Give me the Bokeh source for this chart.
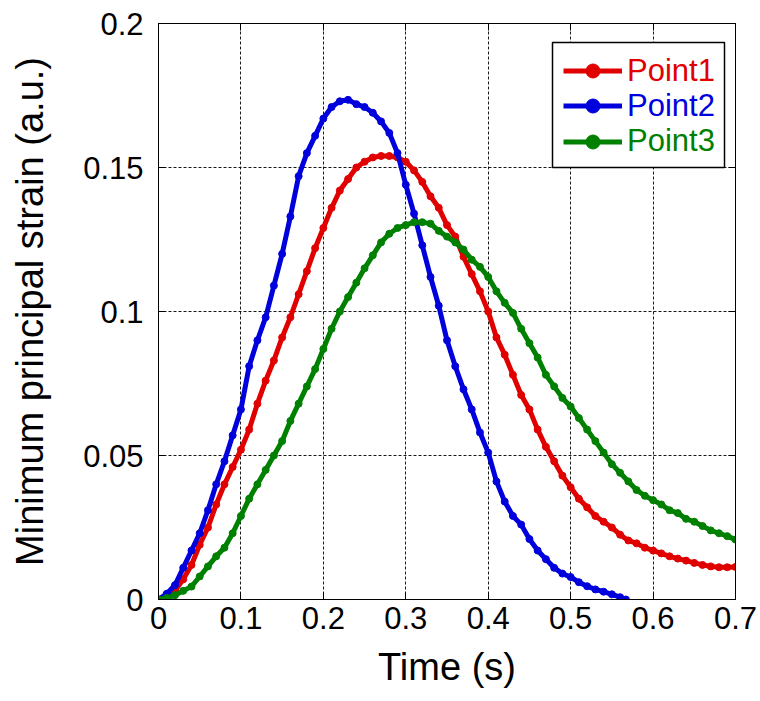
from bokeh.plotting import figure
from bokeh.models import (Range1d, FixedTicker, Legend, LegendItem, LinearAxis,
                          ColumnDataSource, BoxAnnotation)
from bokeh.embed import file_html
from bokeh.resources import INLINE

# ---------------- data ----------------
time_s = [0.00, 0.01, 0.02, 0.03, 0.04, 0.05, 0.06, 0.07, 0.08, 0.09,
          0.10, 0.11, 0.12, 0.13, 0.14, 0.15, 0.16, 0.17, 0.18, 0.19,
          0.20, 0.21, 0.22, 0.23, 0.24, 0.25, 0.26, 0.27, 0.28, 0.29,
          0.30, 0.31, 0.32, 0.33, 0.34, 0.35, 0.36, 0.37, 0.38, 0.39,
          0.40, 0.41, 0.42, 0.43, 0.44, 0.45, 0.46, 0.47, 0.48, 0.49,
          0.50, 0.51, 0.52, 0.53, 0.54, 0.55, 0.56, 0.57, 0.58, 0.59,
          0.60, 0.61, 0.62, 0.63, 0.64, 0.65, 0.66, 0.67, 0.68, 0.69,
          0.70]

point1 = [0.0, 0.001, 0.003, 0.007, 0.012, 0.019, 0.025, 0.033, 0.040, 0.046,
          0.052, 0.059, 0.068, 0.076, 0.083, 0.091, 0.098, 0.106, 0.114, 0.122,
          0.129, 0.136, 0.142, 0.146, 0.150, 0.152, 0.1535, 0.154, 0.154, 0.1535,
          0.152, 0.149, 0.145, 0.140, 0.136, 0.130, 0.126, 0.119, 0.113, 0.107,
          0.100, 0.091, 0.085, 0.078, 0.071, 0.066, 0.059, 0.053, 0.048, 0.043,
          0.039, 0.035, 0.032, 0.029, 0.027, 0.025, 0.0225, 0.0205, 0.0195, 0.018,
          0.017, 0.016, 0.015, 0.0142, 0.0135, 0.0127, 0.012, 0.0115, 0.0112, 0.0112,
          0.0113]

time_p2 = [0.00, 0.01, 0.02, 0.03, 0.04, 0.05, 0.06, 0.07, 0.08, 0.09,
           0.10, 0.11, 0.12, 0.13, 0.14, 0.15, 0.16, 0.17, 0.18, 0.19,
           0.20, 0.21, 0.22, 0.23, 0.24, 0.25, 0.26, 0.27, 0.28, 0.29,
           0.30, 0.31, 0.32, 0.33, 0.34, 0.35, 0.36, 0.37, 0.38, 0.39,
           0.40, 0.41, 0.42, 0.43, 0.44, 0.45, 0.46, 0.47, 0.48, 0.49,
           0.50, 0.51, 0.52, 0.53, 0.54, 0.55, 0.56, 0.567]

point2 = [0.0, 0.002, 0.005, 0.011, 0.017, 0.023, 0.031, 0.040, 0.048, 0.057,
          0.066, 0.081, 0.090, 0.098, 0.109, 0.120, 0.133, 0.147, 0.155, 0.161,
          0.167, 0.171, 0.173, 0.1735, 0.172, 0.171, 0.169, 0.166, 0.162, 0.155,
          0.144, 0.134, 0.123, 0.112, 0.102, 0.090, 0.081, 0.073, 0.066, 0.058,
          0.051, 0.041, 0.034, 0.029, 0.026, 0.021, 0.017, 0.014, 0.011, 0.009,
          0.0078, 0.006, 0.0046, 0.0035, 0.0027, 0.0018, 0.0008, 0.0]

point3 = [0.0, 0.0005, 0.0015, 0.003, 0.0045, 0.008, 0.0115, 0.015, 0.018, 0.023,
          0.029, 0.035, 0.040, 0.045, 0.050, 0.055, 0.062, 0.068, 0.074, 0.080,
          0.087, 0.094, 0.100, 0.105, 0.110, 0.115, 0.1195, 0.124, 0.127, 0.129,
          0.130, 0.131, 0.131, 0.1305, 0.128, 0.126, 0.124, 0.1215, 0.118, 0.1155,
          0.112, 0.107, 0.103, 0.0995, 0.094, 0.089, 0.084, 0.078, 0.074, 0.070,
          0.067, 0.063, 0.059, 0.055, 0.051, 0.047, 0.044, 0.041, 0.038, 0.036,
          0.0345, 0.033, 0.031, 0.030, 0.028, 0.027, 0.0255, 0.024, 0.023, 0.022,
          0.0208]

series_names = ["Point1", "Point2", "Point3"]
series_colors = ["#e00000", "#0000dd", "#008000"]

x_ticks = [0, 0.1, 0.2, 0.3, 0.4, 0.5, 0.6, 0.7]
x_tick_labels = ["0", "0.1", "0.2", "0.3", "0.4", "0.5", "0.6", "0.7"]
y_ticks = [0, 0.05, 0.1, 0.15, 0.2]
y_tick_labels = ["0", "0.05", "0.1", "0.15", "0.2"]

FONT = "Liberation Sans"

# ---------------- figure ----------------
W, H = 760, 701
BL, BR, BT, BB = 158, 25, 23, 102
p = figure(width=W, height=H, output_backend="svg", toolbar_location=None,
           x_range=Range1d(0, 0.7), y_range=Range1d(0, 0.2),
           min_border_left=BL, min_border_right=BR,
           min_border_top=BT, min_border_bottom=BB,
           x_axis_label="Time (s)", y_axis_label="Minimum principal strain (a.u.)")
p.background_fill_color = "white"
p.border_fill_color = "white"
p.outline_line_color = "black"
p.outline_line_width = 1
p.outline_line_alpha = 1

for ax, ticks, labels in ((p.xaxis[0], x_ticks, x_tick_labels),
                          (p.yaxis[0], y_ticks, y_tick_labels)):
    ax.ticker = FixedTicker(ticks=ticks)
    ax.major_label_overrides = dict(zip(ticks, labels))
    ax.major_label_text_font = FONT
    ax.major_label_text_font_size = "31px"
    ax.major_label_text_color = "black"
    ax.axis_label_text_font = FONT
    ax.axis_label_text_font_size = "38px"
    ax.axis_label_text_font_style = "normal"
    ax.axis_label_text_color = "black"
    ax.axis_line_color = "black"
    ax.major_tick_line_color = "black"
    ax.major_tick_in = 7
    ax.major_tick_out = 0
    ax.minor_tick_line_color = None

p.xaxis[0].major_label_standoff = 7
p.xaxis[0].axis_label_standoff = 14
p.yaxis[0].major_label_standoff = 15
p.yaxis[0].axis_label_standoff = 29

# mirrored inward ticks on the top and right edges (labels hidden)
for ticks, labels, side in ((x_ticks, x_tick_labels, "above"),
                            (y_ticks, y_tick_labels, "right")):
    mirror = LinearAxis(ticker=FixedTicker(ticks=ticks),
                        major_label_overrides=dict(zip(ticks, labels)),
                        major_label_text_font_size="0px",
                        major_label_standoff=0,
                        axis_line_color="black", major_tick_line_color="black",
                        major_tick_in=7, major_tick_out=0,
                        minor_tick_line_color=None)
    p.add_layout(mirror, side)

for g in (p.xgrid[0], p.ygrid[0]):
    g.grid_line_color = "black"
    g.grid_line_dash = "3 2"
    g.grid_line_width = 1
    g.grid_line_alpha = 0.9
p.xgrid[0].ticker = FixedTicker(ticks=x_ticks)
p.ygrid[0].ticker = FixedTicker(ticks=y_ticks)

# ---------------- series ----------------
xs = [time_s, time_p2, time_s]
ys = [point1, point2, point3]
renderers = []
for name, color, x, y in zip(series_names, series_colors, xs, ys):
    src = ColumnDataSource(dict(x=x, y=y))
    lr = p.line("x", "y", source=src, line_color=color, line_width=5)
    sr = p.scatter("x", "y", source=src, marker="circle", size=7,
                   fill_color=color, line_color=color)
    renderers.append([lr, sr])

# ---------------- legend ----------------
# legend frame (canvas pixels, from the top-left of the page)
box_left, box_right, box_top, box_bottom = 552, 724, 42, 167
p.add_layout(BoxAnnotation(left=box_left, right=box_right, top=box_top, bottom=box_bottom,
                           left_units="canvas", right_units="canvas",
                           top_units="canvas", bottom_units="canvas",
                           fill_color="white", fill_alpha=1,
                           line_color="black", line_width=1.5, line_alpha=1))

# one borderless legend per series so each label keeps its series colour
ROW = 35
row_centers = [71, 106.3, 141.6]      # canvas y of each legend row
glyph_left = 563                      # canvas x where the legend glyphs start
frame_bottom = H - BB
for name, color, rs, cy in zip(series_names, series_colors, renderers, row_centers):
    lg = Legend(items=[LegendItem(label=name, renderers=rs)],
                location=(glyph_left - BL, frame_bottom - (cy + ROW / 2)),
                border_line_color=None, background_fill_alpha=0,
                padding=0, spacing=0, margin=0,
                glyph_width=59, glyph_height=ROW, label_height=ROW,
                label_standoff=5,
                label_text_font=FONT, label_text_font_size="31px",
                label_text_color=color)
    p.add_layout(lg)

open("out.html", "w").write(file_html(p, INLINE))
